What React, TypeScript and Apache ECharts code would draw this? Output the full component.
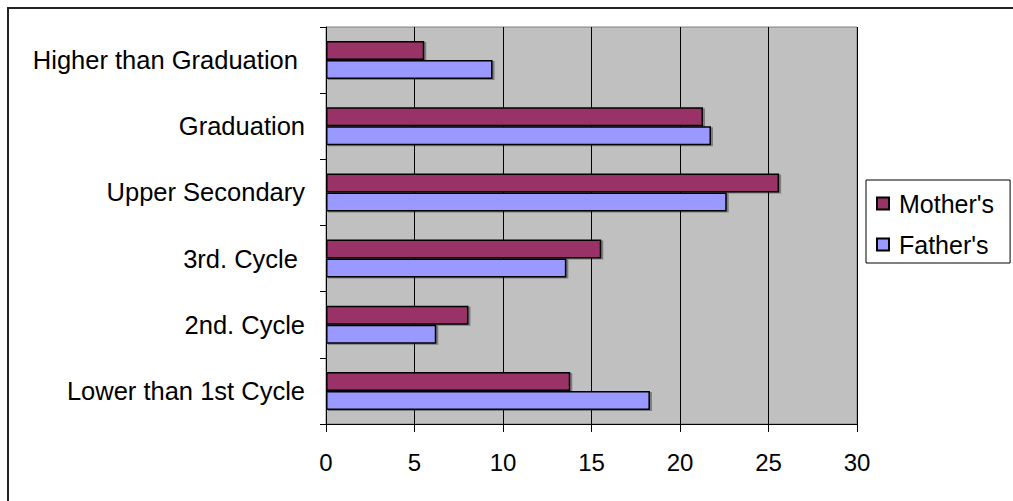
import React, { useEffect, useRef } from "react";
import * as echarts from "echarts";

const categories = [
  "Lower than 1st Cycle",
  "2nd. Cycle",
  "3rd. Cycle ",
  "Upper Secondary",
  "Graduation",
  "Higher than Graduation ",
];
const mothers = [13.8, 8.05, 15.55, 25.6, 21.3, 5.55];
const fathers = [18.3, 6.23, 13.58, 22.64, 21.75, 9.41];
const seriesNames = ["Mother's", "Father's"];
const xTicks = { min: 0, max: 30, interval: 5 };

const FONT = "'Liberation Sans', Arial, sans-serif";

export default function App() {
  const ref = useRef<HTMLDivElement>(null);
  useEffect(() => {
    const chart = echarts.init(ref.current!, null, { renderer: "svg" });
    const barStyle = (color: string) => ({
      color,
      borderColor: "#000",
      borderWidth: 1.5,
      shadowColor: "rgba(0,0,0,0.35)",
      shadowOffsetX: 2,
      shadowOffsetY: 1,
      shadowBlur: 0,
    });
    chart.setOption({
      animation: false,
      backgroundColor: "#fff",
      textStyle: { fontFamily: FONT },
      graphic: [
        {
          type: "rect",
          shape: { x: 8, y: 8, width: 1100, height: 600 },
          style: { fill: "none", stroke: "#222", lineWidth: 2 },
          silent: true,
        },
      ],
      grid: {
        left: 326,
        top: 27,
        right: 156,
        bottom: 77,
        show: true,
        backgroundColor: "#C0C0C0",
        borderColor: "#808080",
        borderWidth: 1,
        containLabel: false,
      },
      legend: {
        orient: "vertical",
        left: 866,
        top: 180,
        padding: [11, 16, 6, 10],
        itemWidth: 12,
        itemHeight: 12,
        itemGap: 16,
        backgroundColor: "#fff",
        borderColor: "#000",
        borderWidth: 1,
        icon: "rect",
        textStyle: { fontFamily: FONT, fontSize: 25, color: "#000", lineHeight: 25, padding: [0, 0, 0, 5] },
        data: seriesNames,
      },
      xAxis: {
        type: "value",
        min: xTicks.min,
        max: xTicks.max,
        interval: xTicks.interval,
        axisLine: { show: true, lineStyle: { color: "#000", width: 1 } },
        axisTick: { show: true, length: 8, lineStyle: { color: "#000" } },
        axisLabel: { fontFamily: FONT, fontSize: 24, color: "#000", margin: 26 },
        splitLine: { show: true, lineStyle: { color: "#000", width: 1 } },
      },
      yAxis: {
        type: "category",
        data: categories,
        axisLine: { show: true, lineStyle: { color: "#000", width: 1 } },
        axisTick: { show: true, length: 6, lineStyle: { color: "#000" } },
        axisLabel: {
          fontFamily: FONT,
          fontSize: 25.5,
          color: "#000",
          margin: 21,
          padding: [0, 0, 5, 0],
        },
        splitLine: { show: false },
      },
      series: [
        {
          name: seriesNames[0],
          type: "bar",
          data: mothers,
          barWidth: 19,
          barGap: "0%",
          itemStyle: barStyle("#993366"),
        },
        {
          name: seriesNames[1],
          type: "bar",
          data: fathers,
          barWidth: 19,
          barGap: "0%",
          itemStyle: barStyle("#9999FF"),
        },
      ],
    });
    return () => chart.dispose();
  }, []);
  return (
    <div
      ref={ref}
      style={{ position: "fixed", left: 0, top: 0, width: 1013, height: 501 }}
    />
  );
}
